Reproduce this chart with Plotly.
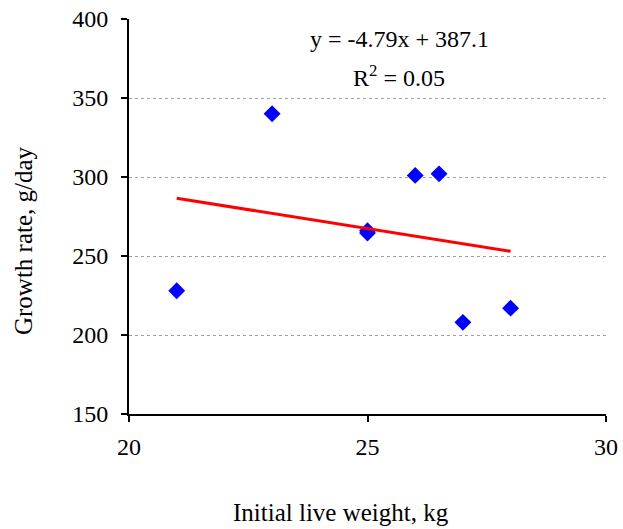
import plotly.graph_objects as go

weight = [21, 23, 25, 25, 26, 26.5, 27, 28]
growth = [228, 340, 264.5, 266, 301, 302, 208, 217]
slope = -4.79
intercept = 387.1
r2 = 0.05
x_ticks = [20, 25, 30]
y_ticks = [150, 200, 250, 300, 350, 400]
x_title = "Initial live weight, kg"
y_title = "Growth rate, g/day"

trend_x = [min(weight), max(weight)]
trend_y = [slope * v + intercept for v in trend_x]

font = "Liberation Serif, Times New Roman, serif"

fig = go.Figure()
fig.add_trace(go.Scatter(x=weight, y=growth, mode="markers",
                         marker=dict(symbol="diamond", size=13, color="#0000FF"),
                         showlegend=False))
fig.add_trace(go.Scatter(x=trend_x, y=trend_y, mode="lines",
                         line=dict(color="#FF0000", width=3), showlegend=False))

ann_font = dict(family=font, size=24, color="black")
fig.add_annotation(x=0.568, y=0.949, xref="paper", yref="paper", showarrow=False,
                   xanchor="center", yanchor="middle",
                   text=f"y = {slope}x + {intercept}", font=ann_font)
fig.add_annotation(x=0.567, y=0.855, xref="paper", yref="paper", showarrow=False,
                   xanchor="center", yanchor="middle",
                   text=f"R<sup>2</sup> = {r2}", font=ann_font)

title_font = dict(family=font, size=25, color="black")
fig.add_annotation(x=0.4444, y=-0.2506, xref="paper", yref="paper", showarrow=False,
                   xanchor="center", yanchor="middle", text=x_title, font=title_font)
fig.add_annotation(x=-0.220, y=0.438, xref="paper", yref="paper", showarrow=False,
                   xanchor="center", yanchor="middle", text=y_title, textangle=-90,
                   font=title_font)

fig.update_layout(
    width=623, height=529,
    margin=dict(l=129, r=17, t=19, b=115),
    plot_bgcolor="white", paper_bgcolor="white",
    font=dict(family=font, size=24, color="black"),
    xaxis=dict(range=[20, 30], tickvals=x_ticks, showgrid=False, zeroline=False,
               showline=True, linecolor="black", linewidth=2, automargin=False,
               ticks="outside", ticklen=6, tickwidth=2, tickcolor="black",
               ticklabelstandoff=4, tickfont=dict(family=font, size=24, color="black")),
    yaxis=dict(range=[150, 400], tickvals=y_ticks, showgrid=True,
               gridcolor="#A0A0A0", griddash="dot", gridwidth=1, zeroline=False,
               showline=True, linecolor="black", linewidth=2, automargin=False,
               ticks="outside", ticklen=6, tickwidth=2, tickcolor="black",
               ticklabelstandoff=8, tickfont=dict(family=font, size=24, color="black")),
)

fig.write_html("out.html")
